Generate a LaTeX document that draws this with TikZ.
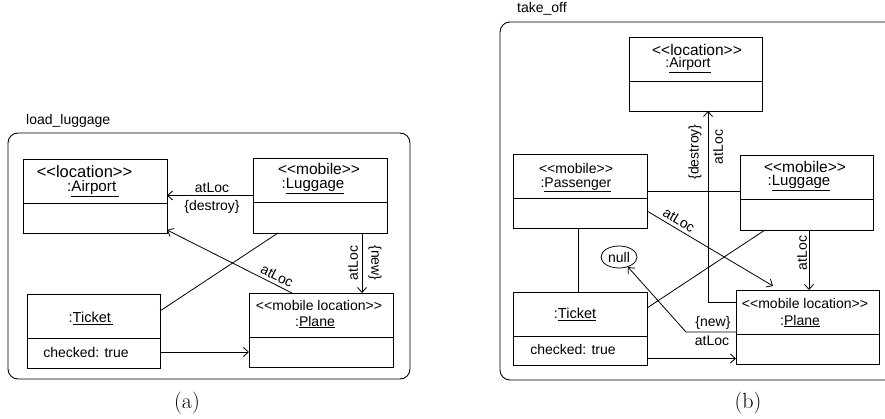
\documentclass[tikz,border=0pt]{standalone}
\usepackage{fontspec}
\newfontfamily\umlfont{Liberation Sans}
\usetikzlibrary{arrows.meta,shapes.geometric}

% stereotype text in angle brackets, ligatures broken
\newcommand\stereo[1]{<{}<#1>{}>}

\begin{document}
\begin{tikzpicture}[x=1pt,y=-1pt,
  every node/.style={font=\umlfont\fontsize{14}{16}\selectfont, inner sep=0pt},
  fs/.style={font=\umlfont\fontsize{#1}{#1}\selectfont},
  box/.style={draw, rectangle, inner sep=0pt, outer sep=0pt, line width=0.9pt},
  conn/.style={line width=0.8pt},
  arr/.style={conn, -{Straight Barb[length=5pt,width=9pt]}},
  frame/.style={draw, line width=0.9pt, rounded corners=10pt},
  caption/.style={font=\rmfamily\fontsize{22}{24}\selectfont},
]
\useasboundingbox (0,0) rectangle (885,419);
\clip (0,0) rectangle (885,419);

% ---------------- (a) load_luggage ----------------
\node[anchor=west] (aTitle) at (26,121) {load\_luggage};
\draw[frame] (8,133) rectangle (410,379);

\node[box, minimum width=144pt, minimum height=74pt] (aA) at (95,196) {};
\draw[conn] (aA.west |- 0,203) -- (aA.east |- 0,203);
\node[fs=16.5] (aAs) at (84.5,172) {\stereo{location}};
\node[fs=15.2] (aAn) at (93,189) {:\underline{Airport\,}};

\node[box, minimum width=134pt, minimum height=75pt] (aL) at (320,195.5) {};
\draw[conn] (aL.west |- 0,202) -- (aL.east |- 0,202);
\node[fs=15.5] (aLs) at (319,169) {\stereo{mobile}};
\node[fs=15] (aLn) at (313,186) {:\underline{Luggage}};

\node[box, minimum width=133pt, minimum height=74pt] (aT) at (93.5,331) {};
\draw[conn] (aT.west |- 0,338) -- (aT.east |- 0,338);
\node[fs=14.5] (aTn) at (91,318) {:\underline{Ticket\,}};
\node (aTa) at (86,352) {checked: true};

\node[box, minimum width=144pt, minimum height=74pt] (aP) at (321,330) {};
\draw[conn] (aP.west |- 0,337) -- (aP.east |- 0,337);
\node (aPs) at (319,305) {\stereo{mobile location}};
\node (aPn) at (315,322) {:\underline{Plane}};

% connectors
\draw[arr] (aL.west) -- (aL.west -| aA.east);
\node (aL1) at (212,188) {atLoc};
\node (aL2) at (212,207) {\{destroy\}};

\draw[arr] ([xshift=42pt]aL.south) -- ([xshift=42pt]aL.south |- aP.north);
\node[rotate=90] (aL3) at (353,263) {atLoc};
\node[rotate=-90] (aL4) at (375,263) {\{new\}};

\draw[conn] ([xshift=-42pt]aL.south) -- ([yshift=20pt]aT.east);

\draw[arr] ([xshift=-29pt]aP.north) -- ([yshift=-34pt]aA.east)
  node[pos=0.15, above=3pt, sloped] (aL5) {atLoc};

\draw[arr] ([yshift=-21pt]aT.east) -- ([yshift=-21pt]aT.east -| aP.west);

\node[caption] (capA) at (187,403) {(a)};

% ---------------- (b) take_off ----------------
\node[anchor=west] (bTitle) at (517,9) {take\_off};
\draw[frame] (500,22) rectangle (930,380);

\node[box, minimum width=133pt, minimum height=74pt] (bA) at (695.5,74) {};
\draw[conn] (bA.west |- 0,81) -- (bA.east |- 0,81);
\node[fs=15.5] (bAs) at (697,50) {\stereo{location}};
\node (bAn) at (688,65) {:\underline{Airport}};

\node[box, minimum width=134pt, minimum height=74pt] (bS) at (580,191) {};
\draw[conn] (bS.west |- 0,198) -- (bS.east |- 0,198);
\node (bSs) at (576,168) {\stereo{mobile}};
\node (bSn) at (576,185) {:\underline{Passenger}};

\node[box, minimum width=133pt, minimum height=75pt] (bL) at (806.5,192.5) {};
\draw[conn] (bL.west |- 0,199) -- (bL.east |- 0,199);
\node[fs=15.5] (bLs) at (805,167) {\stereo{mobile}};
\node[fs=15] (bLn) at (799,183) {:\underline{Luggage}};

\node[box, minimum width=134pt, minimum height=73pt] (bT) at (580,328.5) {};
\draw[conn] (bT.west |- 0,336) -- (bT.east |- 0,336);
\node[fs=14.5] (bTn) at (575,314) {:\underline{Ticket}};
\node (bTa) at (573,349) {checked: true};

\node[box, minimum width=143pt, minimum height=74pt] (bP) at (807.5,327) {};
\draw[conn] (bP.west |- 0,334) -- (bP.east |- 0,334);
\node (bPs) at (805,303) {\stereo{mobile location}};
\node (bPn) at (800,321) {:\underline{Plane}};

\node[draw, ellipse, line width=0.8pt, minimum width=36pt, minimum height=22pt,
      inner sep=0pt] (bN) at (619,257) {null};

% connectors
\draw[conn] (bS.east) -- (bS.east -| bL.west);
\draw[conn] ([xshift=-2pt]bS.south) -- ([xshift=-2pt]bS.south |- bT.north);

\draw[arr] ([yshift=-20pt]bS.east) -- ([xshift=-34.5pt,yshift=4pt]bP.north)
  node[pos=0.22, above=3pt, sloped] (bL1) {atLoc};

\draw[conn] ([xshift=-41.5pt]bL.south) -- ([yshift=20.5pt]bT.east);

\draw[arr] ([xshift=2.5pt]bL.south) -- ([xshift=2.5pt]bL.south |- bP.north);
\node[rotate=90] (bL2) at (802,253) {atLoc};

\draw[arr] ([yshift=25pt]bP.west) -| ([xshift=12.5pt]bA.south);
\node[rotate=90] (bL3) at (695,152) {\{destroy\}};
\node[rotate=90] (bL4) at (718,147) {atLoc};

\coordinate (bK) at (686,332);
\draw[arr] ([yshift=-5pt]bP.west) -- (bK) -- (bN);
\node (bL5) at (713,323) {\{new\}};
\node (bL6) at (712,341) {atLoc};

\draw[arr] ([yshift=-30pt]bT.east) -- ([yshift=-30pt]bT.east -| bP.west);

\node[caption] (capB) at (748,403) {(b)};
\end{tikzpicture}
\end{document}
